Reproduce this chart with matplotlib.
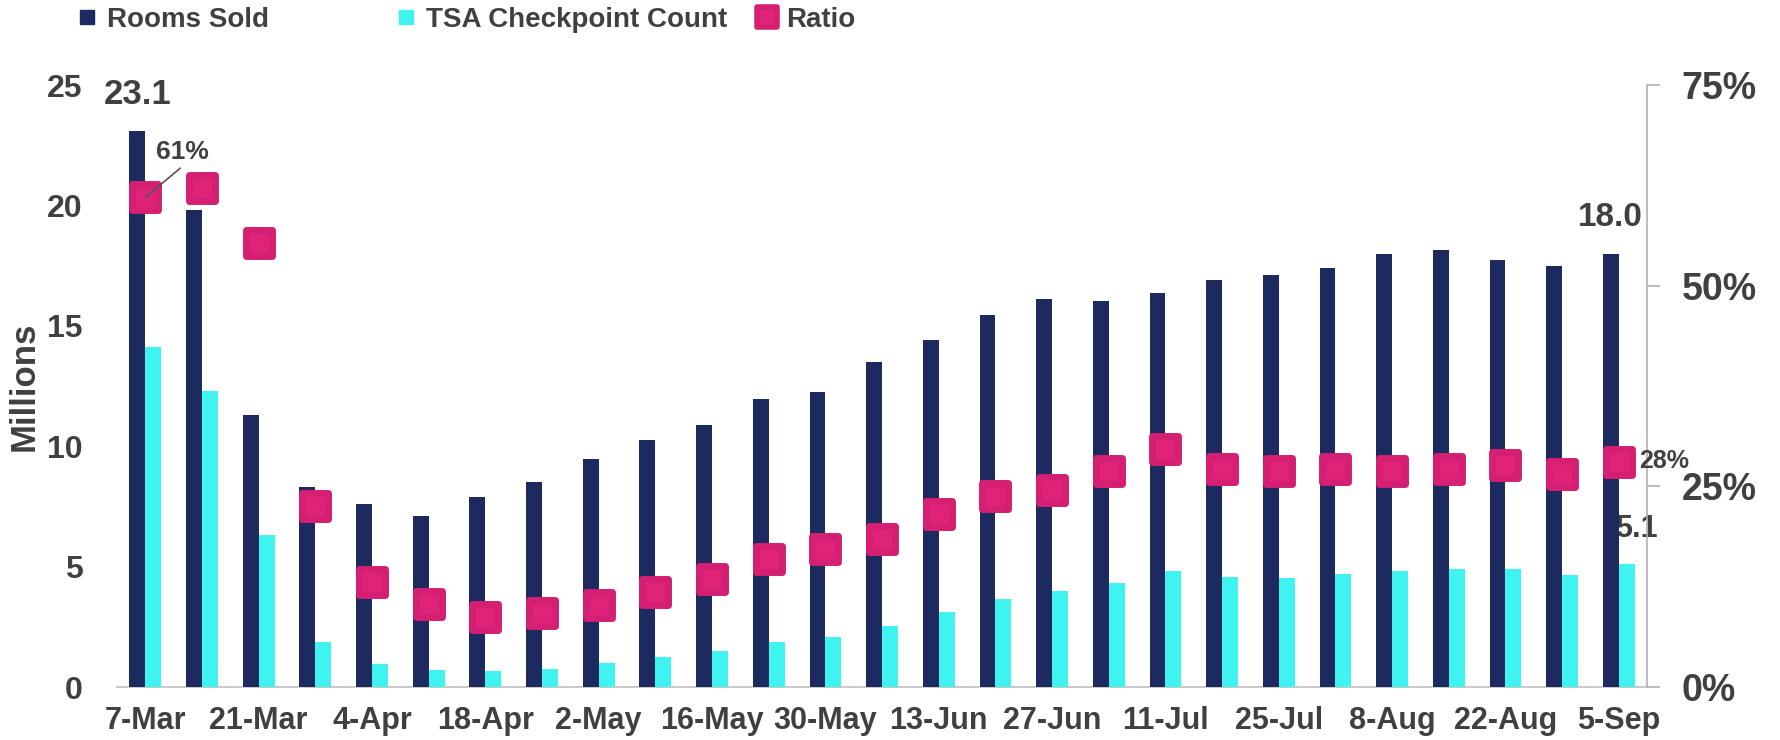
import matplotlib
matplotlib.use("Agg")
import matplotlib.pyplot as plt
from matplotlib.lines import Line2D
from matplotlib.markers import MarkerStyle
from matplotlib.ticker import FuncFormatter
import numpy as np

# weekly data, millions (rooms sold vs TSA checkpoint count)
weeks = ["7-Mar", "14-Mar", "21-Mar", "28-Mar", "4-Apr", "11-Apr", "18-Apr",
         "25-Apr", "2-May", "9-May", "16-May", "23-May", "30-May", "6-Jun",
         "13-Jun", "20-Jun", "27-Jun", "4-Jul", "11-Jul", "18-Jul", "25-Jul",
         "1-Aug", "8-Aug", "15-Aug", "22-Aug", "29-Aug", "5-Sep"]
rooms_sold = [23.1, 19.8, 11.3, 8.3, 7.6, 7.1, 7.9, 8.5, 9.45, 10.25, 10.9,
              11.95, 12.25, 13.5, 14.4, 15.45, 16.1, 16.05, 16.35, 16.9, 17.1,
              17.4, 18.0, 18.15, 17.75, 17.5, 18.0]
tsa_count = [14.1, 12.3, 6.3, 1.85, 0.96, 0.72, 0.65, 0.73, 0.98, 1.23, 1.5,
             1.88, 2.06, 2.53, 3.1, 3.65, 4.0, 4.3, 4.8, 4.58, 4.53, 4.7,
             4.81, 4.92, 4.9, 4.65, 5.1]
ratio_pct = [61, 62.2, 55.3, 22.6, 13.1, 10.4, 8.7, 9.2, 10.2, 11.9, 13.5,
             15.9, 17.2, 18.5, 21.6, 23.8, 24.6, 26.9, 29.6, 27.2, 26.9, 27.1,
             26.9, 27.2, 27.7, 26.6, 28.0]

navy = "#1c2a5f"
cyan = "#3ff3f0"
pink = "#de2379"
pink_edge = "#d41f72"
txt = "#404040"

plt.rcParams["font.family"] = ["Liberation Sans", "DejaVu Sans"]
plt.rcParams["font.weight"] = "bold"

fig = plt.figure(figsize=(17.81, 7.40), dpi=100)
ax = fig.add_axes([0.0657, 0.0716, 0.8591, 0.8135])

x = np.arange(len(weeks))
w = 0.28
ax.bar(x - w / 2, rooms_sold, width=w, color=navy, zorder=3)
ax.bar(x + w / 2, tsa_count, width=w, color=cyan, zorder=3)

ax.set_xlim(-0.5, len(weeks) - 0.5)
ax.set_ylim(0, 25)
ax.set_yticks([0, 5, 10, 15, 20, 25])
ax.set_xticks(x[::2])
ax.set_xticklabels(weeks[::2])
ax.tick_params(axis="y", length=0, pad=25, labelsize=23, labelcolor=txt)
ax.tick_params(axis="x", length=0, pad=14, labelsize=22, labelcolor=txt)
for s in ["top", "left", "right"]:
    ax.spines[s].set_visible(False)
ax.spines["bottom"].set_color("#c0c0c0")
ax.spines["bottom"].set_linewidth(1.2)
ax.set_ylabel("Millions", fontsize=25, color=txt, fontweight="bold")
ax.yaxis.set_label_coords(-0.05, 0.5)

# data labels
ax.annotate(f"{rooms_sold[0]:.1f}", (x[0] - w / 2, rooms_sold[0]),
            xytext=(0, 26), textcoords="offset points", ha="center",
            va="center", fontsize=25, color=txt)
ax.annotate(f"{rooms_sold[-1]:.1f}", (x[-1] - w / 2, rooms_sold[-1]),
            xytext=(0, 26), textcoords="offset points", ha="center",
            va="center", fontsize=24, color=txt)
ax.annotate(f"{tsa_count[-1]:.1f}", (x[-1] + w / 2, tsa_count[-1]),
            xytext=(7, 25), textcoords="offset points", ha="center",
            va="center", fontsize=22, color=txt, zorder=1)

# ratio on secondary axis
ax2 = ax.twinx()
ax2.set_ylim(0, 0.75)
ax2.set_yticks([0, 0.25, 0.5, 0.75])
ax2.yaxis.set_major_formatter(FuncFormatter(lambda v, p: f"{v:.0%}"))
ax2.tick_params(axis="y", length=9, width=1.2, color="#b0b0b0", pad=16,
                labelsize=27, labelcolor=txt)
for s in ["top", "left", "bottom"]:
    ax2.spines[s].set_visible(False)
ax2.spines["right"].set_color("#b0b0b0")
ax2.spines["right"].set_linewidth(1.2)

ratio = np.array(ratio_pct) / 100
mk = MarkerStyle("s", joinstyle="round")
ax2.plot(x, ratio, ls="none", marker=mk, ms=19, mew=5, mfc=pink,
         mec=pink_edge, zorder=4)

ax2.annotate(f"{ratio_pct[0]:.0f}%", (x[0], ratio[0]), xytext=(8, 33),
             textcoords="offset points", ha="left", va="center",
             fontsize=19, color=txt, zorder=5,
             arrowprops=dict(arrowstyle="-", color="#555555", lw=1.2,
                             shrinkA=2, shrinkB=0, relpos=(0.5, -0.1)))
ax2.annotate(f"{ratio_pct[-1]:.0f}%", (x[-1], ratio[-1]), xytext=(15, 1),
             textcoords="offset points", ha="left", va="center",
             fontsize=18, color=txt, zorder=5)

# legend, one entry at a time to match the spacing
entries = [
    (Line2D([], [], ls="none", marker="s", ms=10, color=navy), "Rooms Sold", 0.0427),
    (Line2D([], [], ls="none", marker="s", ms=10, color=cyan), "TSA Checkpoint Count", 0.222),
    (Line2D([], [], ls="none", marker=mk, ms=15, mew=4, mfc=pink, mec=pink_edge), "Ratio", 0.4245),
]
for h, lab, xpos in entries:
    fig.legend([h], [lab], loc="center left", bbox_to_anchor=(xpos, 0.973),
               frameon=False, borderpad=0, borderaxespad=0, handlelength=0.8,
               handletextpad=0.3, fontsize=20, labelcolor=txt)

fig.savefig("out.png", dpi=100, facecolor="white")
